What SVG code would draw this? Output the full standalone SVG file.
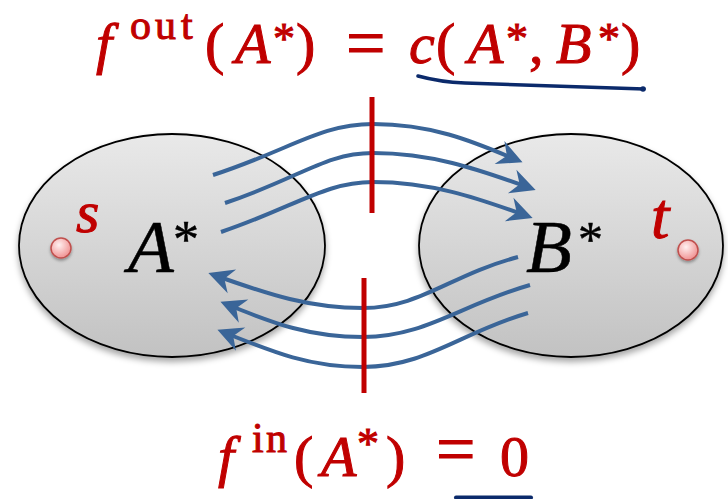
<svg xmlns="http://www.w3.org/2000/svg" width="728" height="499" viewBox="0 0 728 499">
  <defs>
    <linearGradient id="setFill" x1="0" y1="0" x2="0" y2="1">
      <stop offset="0" stop-color="#e9e9e9"/>
      <stop offset="1" stop-color="#c2c2c2"/>
    </linearGradient>
    <radialGradient id="dotFill" cx="0.4" cy="0.35" r="0.7">
      <stop offset="0" stop-color="#fff0f0"/>
      <stop offset="1" stop-color="#ef8c8c"/>
    </radialGradient>
    <filter id="shadow" x="-20%" y="-20%" width="140%" height="150%">
      <feDropShadow dx="0" dy="4" stdDeviation="3" flood-color="#000" flood-opacity="0.35"/>
    </filter>
    <filter id="dotShadow" x="-50%" y="-50%" width="200%" height="200%">
      <feDropShadow dx="0" dy="2" stdDeviation="1.5" flood-color="#000" flood-opacity="0.35"/>
    </filter>
    <marker id="ah" viewBox="-20 -14 28 28" refX="0" refY="0" markerWidth="28" markerHeight="28" markerUnits="userSpaceOnUse" orient="auto">
      <path d="M6,0 L-19,-12.5 L-11,0 L-19,12.5 Z" fill="#3a6598"/>
    </marker>
    <style>
      .set { fill: url(#setFill); stroke: #000; stroke-width: 1.8; filter: url(#shadow); }
      .dot { fill: url(#dotFill); stroke: #c0504d; stroke-width: 1.5; filter: url(#dotShadow); }
      .flow { fill: none; stroke: #3a6598; stroke-width: 4; marker-end: url(#ah); }
      .cut { stroke: #c00000; stroke-width: 5; }
      .m { font-family: "Liberation Serif", "Times New Roman", serif; }
      .i { font-style: italic; }
      .red { fill: #c00000; stroke: #c00000; stroke-width: 1; }
      .blk { fill: #000; stroke: #000; stroke-width: 0.5; }
      .ul { fill: none; stroke: #0b2a6b; stroke-linecap: round; }
    </style>
  </defs>
  <rect width="728" height="499" fill="#fff"/>

  <g id="setA">
    <ellipse class="set" cx="172" cy="245.5" rx="153" ry="111.5"/>
    <text class="m blk" y="272"><tspan class="i" x="128" font-size="75">A</tspan><tspan x="173" y="257" font-size="52">*</tspan></text>
  </g>
  <g id="setB">
    <ellipse class="set" cx="571" cy="245.5" rx="152" ry="111.5"/>
    <text class="m blk" y="272"><tspan class="i" x="526" font-size="75">B</tspan><tspan x="578" y="256" font-size="50">*</tspan></text>
  </g>
  <g id="nodeS">
    <circle class="dot" cx="61" cy="248" r="10"/>
    <text class="m i red" x="76" y="232" font-size="60">s</text>
  </g>
  <g id="nodeT">
    <circle class="dot" cx="688" cy="250" r="10"/>
    <text class="m i red" x="651" y="238" font-size="66">t</text>
  </g>

  <g id="connectors">
    <path class="flow" d="M213,175 C290,150 320,124 373,124 C430,124 470,140 517,160"/>
    <path class="flow" d="M225,203 C300,178 325,153 373,153 C430,153 475,168 530,188"/>
    <path class="flow" d="M221,232 C295,207 325,182 373,182 C430,182 475,197 527,216"/>
    <path class="flow" d="M518,257 C450,275 420,308 363,308 C310,308 270,295 214,275"/>
    <path class="flow" d="M530,285 C460,305 425,337 363,337 C310,337 275,324 226,304"/>
    <path class="flow" d="M528,313 C460,333 425,367 363,367 C310,367 275,353 223,332"/>
  </g>

  <g id="cuts">
    <line class="cut" x1="372" y1="97" x2="372" y2="213"/>
    <line class="cut" x1="364" y1="278" x2="364" y2="393"/>
  </g>

  <g id="formulaOut">
    <text class="m red" y="63" font-size="58"><tspan class="i" x="96">f</tspan><tspan x="130 155 181" y="39" font-size="42">out</tspan><tspan x="205" y="63">(</tspan><tspan class="i" x="235">A</tspan><tspan x="273" y="53" font-size="44">*</tspan><tspan x="296" y="63">)</tspan><tspan x="346" y="67" font-size="70">=</tspan><tspan class="i" x="409" y="63">c</tspan><tspan x="436">(</tspan><tspan class="i" x="468">A</tspan><tspan x="506" y="53" font-size="44">*</tspan><tspan x="529" y="63">,</tspan><tspan class="i" x="556">B</tspan><tspan x="598" y="53" font-size="44">*</tspan><tspan x="621" y="63">)</tspan></text>
    <path class="ul" stroke-width="3.5" d="M418,76 Q440,82 465,83 L644,89"/>
    <circle cx="643" cy="89" r="2.8" fill="#0b2a6b"/>
  </g>

  <g id="formulaIn">
    <text class="m red" y="476" font-size="58"><tspan class="i" x="218">f</tspan><tspan x="252 266" y="452" font-size="42">in</tspan><tspan x="294" y="476">(</tspan><tspan class="i" x="321">A</tspan><tspan x="357" y="458" font-size="44">*</tspan><tspan x="386" y="476">)</tspan><tspan x="436" y="473" font-size="70">=</tspan><tspan x="500" y="476">0</tspan></text>
    <line class="ul" stroke-width="4" x1="456" y1="497.5" x2="531" y2="497.5"/>
  </g>
</svg>
